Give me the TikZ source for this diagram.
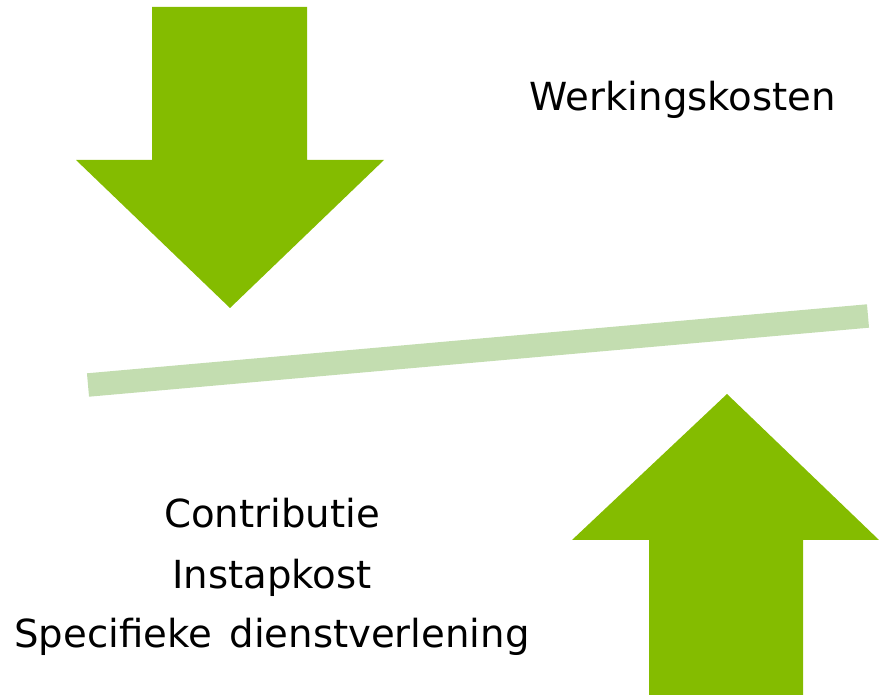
\documentclass[tikz,border=0pt]{standalone}
\usepackage{fontspec}
\setmainfont{DejaVu Sans}
\definecolor{arrowgreen}{HTML}{84BC00}
\definecolor{bargreen}{HTML}{C3DDB0}

\begin{document}
\begin{tikzpicture}[x=0.02cm, y=-0.02cm]
		\useasboundingbox (0, 0) rectangle (879, 695);
		\fill [arrowgreen] (152, 7) -- (307, 7) -- (307, 160) -- (384, 160) -- (230, 308) -- (76, 160) -- (152, 160) -- cycle;
		\fill [arrowgreen] (649, 695) -- (803, 695) -- (803, 540) -- (879, 540) -- (727, 394) -- (572, 540) -- (649, 540) -- cycle;
		\draw [bargreen, line width=0.47cm] (88, 385) -- (868, 316);
		\draw (683, 111) node [anchor=base, font=\fontsize{22}{26}\selectfont] (werking) {Werkingskosten};
		\draw (272, 528) node [anchor=base, font=\fontsize{22}{26}\selectfont] (contrib) {Contributie};
		\draw (272, 588) node [anchor=base, font=\fontsize{22}{26}\selectfont] (instap) {Instapkost};
		\draw (272, 647) node [anchor=base, font=\fontsize{22}{26}\selectfont] (dienst) {Specifieke\hspace{0.45em}dienstverlening};
	\end{tikzpicture}
\end{document}
